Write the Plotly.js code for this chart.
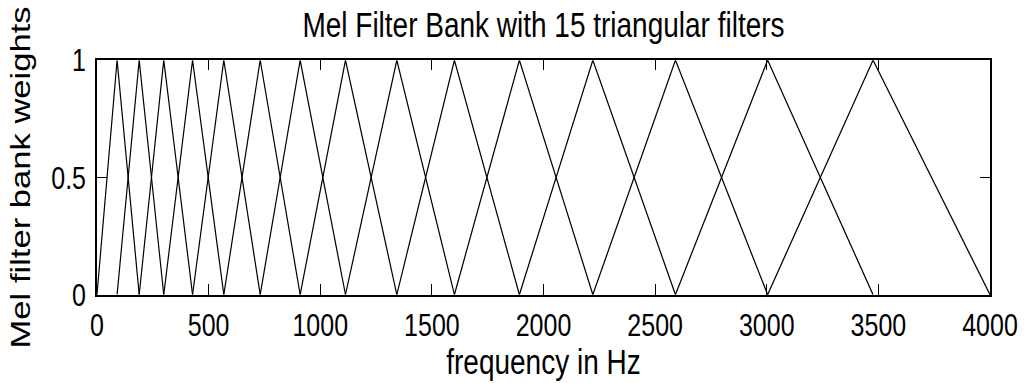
<!DOCTYPE html>
<html>
<head>
<meta charset="utf-8">
<script src="https://cdn.plot.ly/plotly-3.0.1.min.js"></script>
<style>
html,body{margin:0;padding:0;background:#fff;overflow:hidden;width:1029px;height:383px;}
#chart{width:1029px;height:299px;transform:scaleY(1.281);transform-origin:0 0;}
</style>
</head>
<body>
<div id="chart"></div>
<script>
// Filter edge frequencies (Hz): 15 filters need 17 edges
const edgeFreqs = [0, 90, 189, 299, 428, 568, 731, 910, 1113, 1343, 1601, 1892, 2221, 2591, 3004, 3476, 4000];
// Weight shape of each triangle: start, peak, end
const triangleWeights = [0, 1, 0];
const xTickVals = [0, 500, 1000, 1500, 2000, 2500, 3000, 3500, 4000];
const yTickVals = [0, 0.5, 1];
const yTickText = ['0', '0.5', '1'];

const traces = [];
for (let i = 0; i + 2 < edgeFreqs.length; i++) {
  traces.push({
    x: [edgeFreqs[i], edgeFreqs[i + 1], edgeFreqs[i + 2]],
    y: triangleWeights,
    type: 'scatter',
    mode: 'lines',
    line: {color: '#000', width: 1.2},
    hoverinfo: 'skip',
    showlegend: false
  });
}

const fam = '"Liberation Sans", Arial, Helvetica, sans-serif';
const f = (s) => ({family: fam, size: s, color: '#000'});
const layout = {
  width: 1029, height: 299,
  margin: {l: 97, r: 39, t: 47, b: 69},
  paper_bgcolor: '#fff', plot_bgcolor: '#fff',
  font: f(25),
  title: {text: 'Mel Filter Bank with 15 triangular filters', font: f(28), x: 0.5, xref: 'paper', xanchor: 'center', y: 0.935, yanchor: 'middle', yref: 'container'},
  xaxis: {
    range: [0, 4000], tickvals: xTickVals, ticks: 'inside', ticklen: 8, tickwidth: 1, tickcolor: '#000',
    showline: true, linecolor: '#000', linewidth: 2, mirror: 'ticks', showgrid: false, zeroline: false,
    tickfont: f(25),
    title: {text: 'frequency in Hz', font: f(28), standoff: 3}
  },
  yaxis: {
    range: [0, 1], tickvals: yTickVals, ticktext: yTickText, ticks: 'inside', ticklen: 10, tickwidth: 1, tickcolor: '#000',
    showline: true, linecolor: '#000', linewidth: 2, mirror: 'ticks', showgrid: false, zeroline: false,
    tickfont: f(25), ticklabelstandoff: 4,
    title: {text: 'Mel filter bank weights', font: f(27), standoff: 13}
  }
};
Plotly.newPlot('chart', traces, layout, {staticPlot: true, displayModeBar: false});
</script>
</body>
</html>
